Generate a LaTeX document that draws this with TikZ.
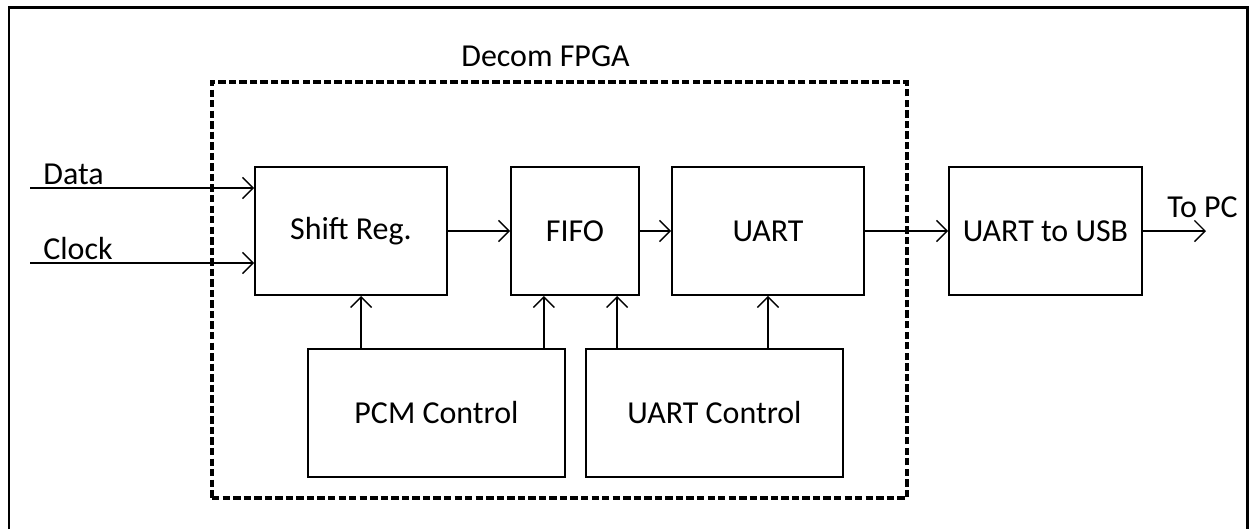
\documentclass[tikz,border=0pt]{standalone}
\usepackage{fontspec}
\setmainfont{Carlito}
\usepackage{tikz}
\usetikzlibrary{arrows.meta}
\usetikzlibrary{positioning}
\tikzstyle{block}=[draw,line width=1.1pt,inner sep=0pt,minimum height=2.56cm]
\tikzstyle{sig}=[line width=0.8pt,-{Straight Barb[length=6pt,width=12pt]}]
\tikzstyle{lbl}=[inner sep=0pt,anchor=base west]
\tikzstyle{chip}=[draw,line width=1.8pt,dash pattern=on 4.2pt off 1.8pt,inner sep=0pt]

\begin{document}
\begin{tikzpicture}[x=0.02cm,y=-0.02cm,font=\fontsize{18.2}{22}\selectfont]
	\useasboundingbox (0,0) rectangle (1249,529);
	\draw[line width=1.7pt] (9,529) -- (9,7) -- (1247,7) -- (1247,529);
	\node[chip,minimum width=13.9cm,minimum height=8.32cm] (fpga) at (559.5,290) {};
	\node[lbl] (fpgalbl) at (461,66) {Decom FPGA};
	\node[block,minimum width=3.84cm] (shift) at (351,231) {Shift Reg.};
	\node[block,minimum width=2.56cm] (fifo) at (575,231) {FIFO};
	\node[block,minimum width=3.84cm] (uart) at (768,231) {UART};
	\node[block,minimum width=3.86cm] (usb) at (1045.5,231) {UART to USB};
	\node[block,minimum width=5.14cm] (pcm) at (436.5,413) {PCM Control};
	\node[block,minimum width=5.14cm] (uctl) at (714.5,413) {UART Control};
	\coordinate (data) at (30,188);
	\coordinate (clock) at (30,263);
	\coordinate (pc) at (1206,231);
	\node[lbl] (datalbl) at (43,184) {Data};
	\node[lbl] (clocklbl) at (43,259) {Clock};
	\node[lbl] (pclbl) at (1167,217) {To PC};
	\coordinate (p1) at ([xshift=1.08cm]pcm.north west);
	\coordinate (p2) at ([xshift=-0.44cm]pcm.north east);
	\coordinate (p3) at ([xshift=0.64cm]uctl.north west);
	\path [sig] (data) edge (data -| shift.west);
	\path [sig] (clock) edge (clock -| shift.west);
	\path [sig] (shift) edge (fifo);
	\path [sig] (fifo) edge (uart);
	\path [sig] (uart) edge (usb);
	\path [sig] (usb) edge (pc);
	\path [sig] (p1) edge (p1 |- shift.south);
	\path [sig] (p2) edge (p2 |- fifo.south);
	\path [sig] (p3) edge (p3 |- fifo.south);
	\path [sig] (uart.south |- uctl.north) edge (uart.south);
\end{tikzpicture}
\end{document}
